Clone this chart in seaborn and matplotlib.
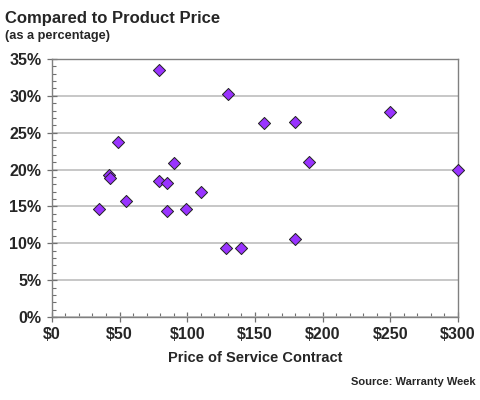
import numpy as np
import pandas as pd
import matplotlib
matplotlib.use("Agg")
import matplotlib.pyplot as plt
import seaborn as sns
from matplotlib.ticker import MultipleLocator, FuncFormatter

# service contract price ($) vs contract price as % of product price
price = [79, 130, 157, 49, 90, 42, 43, 79, 85, 110, 55, 35, 85, 99, 129, 140,
         180, 250, 190, 300, 180]
pct = [33.5, 30.3, 26.3, 23.8, 20.9, 19.3, 18.9, 18.5, 18.2, 16.9, 15.7, 14.6,
       14.4, 14.6, 9.3, 9.3, 26.5, 27.8, 21.0, 20.0, 10.6]

df = pd.DataFrame({"price": price, "pct": pct})

sns.set_style("white")
plt.rcParams["font.family"] = ["Liberation Sans", "DejaVu Sans"]
plt.rcParams["font.weight"] = "bold"

fig = plt.figure(figsize=(4.8, 4.0), dpi=100)
ax = fig.add_axes([0.108, 0.2075, 0.846, 0.645])

sns.scatterplot(data=df, x="price", y="pct", ax=ax, marker="D", s=38,
                color="#9933ff", edgecolor="#222222", linewidth=0.7,
                zorder=3, clip_on=False, legend=False)

ax.set_xlim(0, 300)
ax.set_ylim(0, 35)
ax.xaxis.set_major_locator(MultipleLocator(50))
ax.xaxis.set_minor_locator(MultipleLocator(10))
ax.yaxis.set_major_locator(MultipleLocator(5))
ax.yaxis.set_minor_locator(MultipleLocator(1))
ax.xaxis.set_major_formatter(FuncFormatter(lambda v, p: f"${v:.0f}"))
ax.yaxis.set_major_formatter(FuncFormatter(lambda v, p: f"{v:.0f}%"))

ax.grid(axis="y", color="#bdbdbd", linewidth=1.2)
ax.set_axisbelow(True)
for s in ax.spines.values():
    s.set_color("#808080")
    s.set_linewidth(1.0)

ax.tick_params(which="major", direction="inout", length=7, width=0.9,
               color="#707070", labelsize=11.5, pad=4)
ax.tick_params(which="minor", direction="in", length=3, width=0.8,
               color="#707070")
ax.tick_params(axis="both", which="both", bottom=True, left=True,
               top=False, right=False)
for lab in ax.get_xticklabels() + ax.get_yticklabels():
    lab.set_fontweight("bold")

ax.set_xlabel("Price of Service Contract", fontsize=10.5, fontweight="bold",
              labelpad=6)
ax.set_ylabel("")

fig.text(0.01, 0.955, "Compared to Product Price", fontsize=12,
         fontweight="bold", va="center")
fig.text(0.01, 0.91, "(as a percentage)", fontsize=9.2, fontweight="bold",
         va="center")
fig.text(0.99, 0.045, "Source: Warranty Week", fontsize=8,
         fontweight="bold", ha="right", va="center")

fig.savefig("out.png", dpi=100)
